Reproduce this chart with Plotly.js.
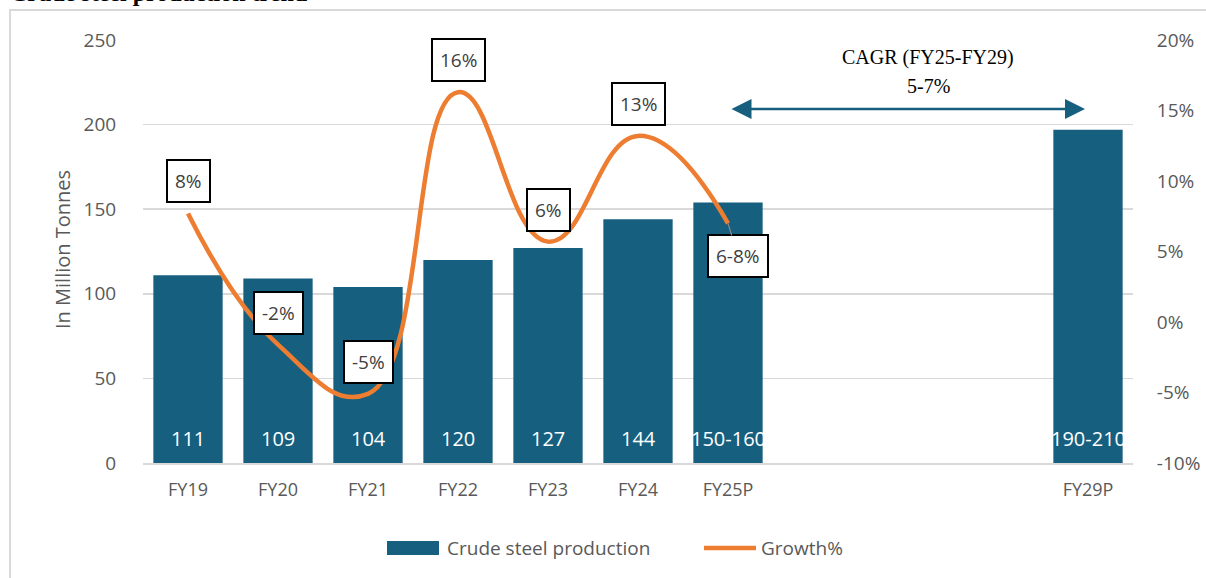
<!DOCTYPE html>
<html>
<head>
<meta charset="utf-8">
<script src="https://cdn.plot.ly/plotly-3.0.1.min.js"></script>
<style>html,body{margin:0;padding:0;background:#fff;}#chart{width:1206px;height:578px;}</style>
</head>
<body>
<div id="chart"></div>
<script>
// ---- data ----
const categories = ["FY19", "FY20", "FY21", "FY22", "FY23", "FY24", "FY25P", "FY29P"];
const axisSlots = ["FY19", "FY20", "FY21", "FY22", "FY23", "FY24", "FY25P", "FY26P", "FY27P", "FY28P", "FY29P"];
const production = [111, 109, 104, 120, 127, 144, 154, 197];
const productionLabels = ["111", "109", "104", "120", "127", "144", "150-160", "190-210"];
const growthCategories = ["FY19", "FY20", "FY21", "FY22", "FY23", "FY24", "FY25P"];
const growth = [0.077, -0.016, -0.051, 0.163, 0.057, 0.132, 0.070];
const growthLabels = ["8%", "-2%", "-5%", "16%", "6%", "13%", "6-8%"];
const leftTicks = [0, 50, 100, 150, 200, 250];
const rightTickValues = [-0.10, -0.05, 0, 0.05, 0.10, 0.15, 0.20];
const rightTickLabels = ["-10%", "-5%", "0%", "5%", "10%", "15%", "20%"];
const cagrTitle = "CAGR (FY25-FY29)";
const cagrValue = "5-7%";
const chartTitle = "Crude steel production trend";
const yTitle = "In Million Tonnes";

// ---- styles ----
const BAR = "#175f7f";
const ORANGE = "#ED7D31";
const TICK = "#595959";
const FONT = "'Open Sans', Carlito, Lato, sans-serif";
const SERIF = "'Liberation Serif', 'Times New Roman', serif";

const traces = [
  {
    type: "bar",
    name: "Crude steel production",
    x: categories,
    y: production,
    marker: {color: BAR},
    hoverinfo: "skip"
  },
  {
    type: "scatter",
    mode: "lines",
    name: "Growth%",
    x: growthCategories,
    y: growth,
    yaxis: "y2",
    line: {color: ORANGE, width: 4.5, shape: "spline", smoothing: 1.3},
    hoverinfo: "skip"
  }
];

const annotations = [];
// bar value labels (white, near base)
categories.forEach((c, i) => {
  annotations.push({
    x: c, y: 0, xref: "x", yref: "y",
    text: productionLabels[i], showarrow: false,
    yanchor: "middle", yshift: 25,
    font: {family: FONT, size: 20, color: "#ffffff"}
  });
});
// growth labels (boxed)
growthCategories.forEach((c, i) => {
  const last = i === growthCategories.length - 1;
  const a = {
    x: c, y: growth[i], xref: "x", yref: "y2",
    text: growthLabels[i],
    bgcolor: "#ffffff", bordercolor: "#000000", borderwidth: 2, borderpad: 7,
    font: {family: FONT, size: 19, color: "#404040"}
  };
  if (last) {
    a.showarrow = true; a.ax = 10; a.ay = 33; a.arrowhead = 0;
    a.arrowcolor = "#8c8c8c"; a.arrowwidth = 1.2; a.standoff = 0;
  } else {
    a.showarrow = false; a.yshift = 32;
  }
  annotations.push(a);
});
// CAGR text
annotations.push({
  xref: "paper", yref: "paper", x: 0.793, xanchor: "center", y: (463 - 58) / 423, yanchor: "middle",
  text: cagrTitle, showarrow: false,
  font: {family: SERIF, size: 20, color: "#000000"}
});
annotations.push({
  xref: "paper", yref: "paper", x: 0.793, xanchor: "center", y: (463 - 86) / 423, yanchor: "middle",
  text: cagrValue, showarrow: false,
  font: {family: SERIF, size: 20, color: "#000000"}
});
// CAGR double arrow
annotations.push({
  xref: "paper", yref: "paper", x: (1085 - 143) / 990, y: (463 - 109) / 423,
  text: "", showarrow: true, ax: -355, ay: 0,
  arrowhead: 2, arrowside: "end+start", arrowsize: 1.6, arrowwidth: 2.5,
  arrowcolor: BAR, standoff: 0, startstandoff: 0
});
// y axis title
annotations.push({
  xref: "paper", yref: "paper", x: (62 - 143) / 990, xanchor: "center", y: (463 - 250) / 423, yanchor: "middle",
  text: yTitle, textangle: -90, showarrow: false,
  font: {family: FONT, size: 20, color: TICK}
});
// title, cut off at the very top as in the source image
annotations.push({
  xref: "paper", yref: "paper", x: (8 - 143) / 990, xanchor: "left",
  y: (463 - 7.5) / 423, yanchor: "bottom", text: "<b>" + chartTitle + "</b>", showarrow: false,
  font: {family: SERIF, size: 24, color: "#000000"}
});
// custom legend
const legY = (463 - 548) / 423;
annotations.push({
  xref: "paper", yref: "paper", x: (445 - 143) / 990, xanchor: "left", y: legY, yanchor: "middle",
  text: traces[0].name, showarrow: false, font: {family: FONT, size: 19, color: TICK}
});
annotations.push({
  xref: "paper", yref: "paper", x: (759 - 143) / 990, xanchor: "left", y: legY, yanchor: "middle",
  text: traces[1].name, showarrow: false, font: {family: FONT, size: 19, color: TICK}
});

const layout = {
  width: 1206, height: 578,
  margin: {l: 143, r: 73, t: 40, b: 115},
  paper_bgcolor: "#ffffff", plot_bgcolor: "#ffffff",
  bargap: 0.23,
  showlegend: false,
  xaxis: {
    type: "category", categoryorder: "array", categoryarray: axisSlots,
    range: [-0.5, axisSlots.length - 0.5],
    tickvals: categories, ticktext: categories,
    showgrid: false, showline: true, linecolor: "#d9d9d9", linewidth: 1.5,
    ticks: "outside", ticklen: 10, tickcolor: "rgba(0,0,0,0)",
    tickfont: {family: FONT, size: 18, color: TICK}, fixedrange: true
  },
  yaxis: {
    range: [0, 250], tickvals: leftTicks,
    showgrid: true, gridcolor: "#d9d9d9", gridwidth: 1.5, zeroline: false,
    ticks: "outside", ticklen: 22, tickcolor: "rgba(0,0,0,0)",
    tickfont: {family: FONT, size: 19, color: TICK},
    fixedrange: true
  },
  yaxis2: {
    overlaying: "y", side: "right",
    range: [-0.10, 0.20], tickvals: rightTickValues, ticktext: rightTickLabels,
    showgrid: false, zeroline: false,
    ticks: "outside", ticklen: 19, tickcolor: "rgba(0,0,0,0)",
    tickfont: {family: FONT, size: 19, color: TICK}, fixedrange: true
  },
  shapes: [
    {
      type: "rect", xref: "paper", yref: "paper",
      x0: (10 - 143) / 990, x1: (1230 - 143) / 990,
      y0: (463 - 600) / 423, y1: (463 - 10) / 423,
      line: {color: "#d9d9d9", width: 2}, fillcolor: "rgba(0,0,0,0)", layer: "below"
    },
    {
      type: "rect", xref: "paper", yref: "paper",
      x0: (387 - 143) / 990, x1: (439 - 143) / 990,
      y0: (463 - 555) / 423, y1: (463 - 541) / 423,
      line: {width: 0}, fillcolor: BAR
    },
    {
      type: "line", xref: "paper", yref: "paper",
      x0: (704 - 143) / 990, x1: (756 - 143) / 990,
      y0: legY, y1: legY,
      line: {color: ORANGE, width: 4.5}
    }
  ],
  annotations: annotations
};

Plotly.newPlot("chart", traces, layout, {displayModeBar: false, staticPlot: true});
</script>
</body>
</html>
